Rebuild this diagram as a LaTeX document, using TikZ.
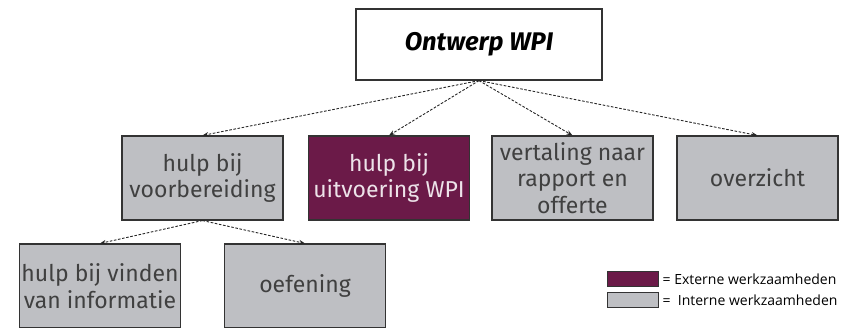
\documentclass[tikz,border=0pt]{standalone}
\usepackage{fontspec}
\setmainfont{Fira Sans}
\newfontfamily\legendafont{Open Sans}
\usetikzlibrary{arrows.meta}
\definecolor{taakgrijs}{HTML}{BEBFC3}
\definecolor{extern}{HTML}{6B1A48}
\definecolor{rand}{HTML}{333333}

\begin{document}
\begin{tikzpicture}[x=1pt,y=-1pt,
    taak/.style={draw=rand, line width=1.1pt, fill=taakgrijs, text=black!75,
      minimum width=161pt, minimum height=84pt, inner sep=0pt, align=center,
      font=\fontsize{23}{26.5}\selectfont},
    pijl/.style={-{Stealth[length=6pt,width=4.5pt]}, dash pattern=on 2.6pt off 1.6pt,
      line width=0.9pt, draw=black!85},
    vakje/.style={draw=rand, line width=0.9pt, minimum width=51pt, minimum height=14.5pt, inner sep=0pt}]
  \clip (0,0) rectangle (843,327);
  \node[draw=rand, line width=1.2pt, fill=white, minimum width=246pt, minimum height=71pt,
    font=\fontsize{25.5}{30}\selectfont\bfseries\itshape] (ontwerp) at (479,44.5) {Ontwerp WPI};
  \node[taak] (voorb) at (202.5,178) {hulp bij\\voorbereiding};
  \node[taak, fill=extern, text=white!88!extern] (uitv) at (389,178) {hulp bij\\uitvoering WPI};
  \node[taak] (vertaling) at (572.5,178) {vertaling naar\\rapport en\\offerte};
  \node[taak] (overzicht) at (757.5,178) {overzicht};
  \node[taak] (vinden) at (100,286) {hulp bij vinden\\van informatie};
  \node[taak] (oefening) at (305,286) {oefening};
  \foreach \doel in {voorb,uitv,vertaling,overzicht}
    \draw[pijl] (ontwerp.south) -- (\doel.north);
  \foreach \doel in {vinden,oefening}
    \draw[pijl] (voorb.south) -- (\doel.north);
  \node[vakje, fill=extern] (sleutelextern) at (632.5,279) {};
  \node[vakje, fill=taakgrijs] (sleutelintern) at (632.5,300) {};
  \node[anchor=west, inner sep=0pt, font=\legendafont\fontsize{14}{16}\selectfont] (tekstextern)
    at ([xshift=4pt]sleutelextern.east) {= Externe werkzaamheden};
  \node[anchor=west, inner sep=0pt, font=\legendafont\fontsize{14}{16}\selectfont] (tekstintern)
    at ([xshift=4pt]sleutelintern.east) {=\ \ Interne werkzaamheden};
\end{tikzpicture}
\end{document}
